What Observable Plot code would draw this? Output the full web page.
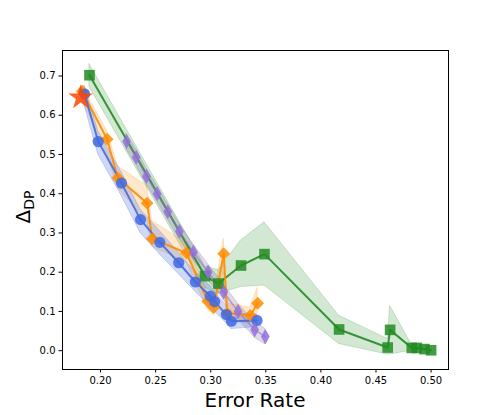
<!DOCTYPE html>
<html>
<head>
<meta charset="utf-8">
<script src="https://cdn.jsdelivr.net/npm/d3@7"></script>
<script src="https://cdn.jsdelivr.net/npm/@observablehq/plot@0.6"></script>
<style>
  html, body { margin: 0; padding: 0; background: white; }
  #chart svg { display: block; }
</style>
</head>
<body>
<div id="chart"></div>
<script>
// ---- data ----
const xTicks = [0.20, 0.25, 0.30, 0.35, 0.40, 0.45, 0.50];
const yTicks = [0.0, 0.1, 0.2, 0.3, 0.4, 0.5, 0.6, 0.7];

const starX = [0.182];
const starY = [0.645];

const greenX  = [0.190, 0.2948, 0.3070, 0.3275, 0.3488, 0.4165, 0.4606, 0.4628, 0.4825, 0.4870, 0.4940, 0.5000];
const greenY  = [0.702, 0.190, 0.171, 0.217, 0.246, 0.054, 0.008, 0.053, 0.007, 0.007, 0.004, 0.001];
const greenLo = [0.672, 0.160, 0.145, 0.162, 0.166, 0.017, -0.010, -0.010, 0.000, 0.001, -0.001, -0.003];
const greenHi = [0.730, 0.215, 0.205, 0.281, 0.327, 0.089, 0.030, 0.114, 0.015, 0.013, 0.009, 0.005];

const blueX  = [0.1855, 0.1979, 0.2190, 0.2363, 0.2538, 0.2710, 0.2861, 0.2997, 0.3036, 0.3142, 0.3188, 0.3420];
const blueY  = [0.654, 0.533, 0.427, 0.334, 0.276, 0.224, 0.175, 0.139, 0.125, 0.092, 0.075, 0.077];
const blueLo = [0.625, 0.500, 0.395, 0.300, 0.245, 0.195, 0.150, 0.112, 0.100, 0.070, 0.055, 0.060];
const blueHi = [0.675, 0.560, 0.455, 0.360, 0.305, 0.250, 0.200, 0.165, 0.150, 0.115, 0.095, 0.092];

const orangeX  = [0.1834, 0.2060, 0.2157, 0.2423, 0.2469, 0.2780, 0.2973, 0.3027, 0.3118, 0.3150, 0.3360, 0.3426];
const orangeY  = [0.661, 0.539, 0.440, 0.376, 0.285, 0.249, 0.126, 0.110, 0.247, 0.095, 0.090, 0.121];
const orangeLo = [0.640, 0.500, 0.415, 0.330, 0.265, 0.225, 0.105, 0.090, 0.200, 0.075, 0.070, 0.095];
const orangeHi = [0.675, 0.560, 0.470, 0.420, 0.330, 0.275, 0.150, 0.135, 0.285, 0.120, 0.110, 0.160];

const purpleX  = [0.2236, 0.2324, 0.2417, 0.2514, 0.2610, 0.2716, 0.2843, 0.2976, 0.3118, 0.3248, 0.3399, 0.3496];
const purpleY  = [0.533, 0.493, 0.444, 0.400, 0.354, 0.304, 0.251, 0.200, 0.149, 0.100, 0.053, 0.036];
const purpleLo = [0.513, 0.473, 0.424, 0.380, 0.334, 0.284, 0.231, 0.180, 0.129, 0.080, 0.033, 0.016];
const purpleHi = [0.553, 0.513, 0.464, 0.420, 0.374, 0.324, 0.271, 0.220, 0.169, 0.120, 0.073, 0.056];

// ---- colours ----
const C = {
  green: "#228B22",
  blue: "#4169E1",
  orange: "#FF8C00",
  purple: "#9370DB",
  star: "#FF4500"
};

function rows(xs, ys, lo, hi) {
  return xs.map((x, i) => ({x, y: ys[i], lo: lo ? lo[i] : null, hi: hi ? hi[i] : null}));
}
const green = rows(greenX, greenY, greenLo, greenHi);
const blue = rows(blueX, blueY, blueLo, blueHi);
const orange = rows(orangeX, orangeY, orangeLo, orangeHi);
const purple = rows(purpleX, purpleY, purpleLo, purpleHi);
const star = rows(starX, starY);

function band(data, color, op = 0.2) {
  return Plot.areaY(data, {x: "x", y1: "lo", y2: "hi", fill: color, fillOpacity: op,
    stroke: color, strokeOpacity: op, strokeWidth: 1});
}
function line(data, color, w = 2, op = 0.9) {
  return Plot.line(data, {x: "x", y: "y", stroke: color, strokeWidth: w, strokeOpacity: op});
}

const chart = Plot.plot({
  width: 498,
  height: 415,
  marginLeft: 62,
  marginRight: 50,
  marginTop: 50,
  marginBottom: 46,
  style: {fontFamily: "DejaVu Sans", fontSize: "10px", color: "black", background: "white"},
  x: {domain: [0.1655, 0.5158]},
  y: {domain: [-0.048, 0.765]},
  marks: [
    band(green, C.green, 0.2),
    band(purple, "#7a6a9a", 0.25),
    band(orange, C.orange, 0.2),
    band(blue, C.blue, 0.25),
    line(green, C.green, 2),
    line(purple, C.purple, 1.5, 0.6),
    line(orange, C.orange, 2),
    line(blue, C.blue, 2),
    Plot.dot(green, {x: "x", y: "y", symbol: "square", r: 6.0, fill: C.green, fillOpacity: 0.85, stroke: "none"}),
    Plot.dot(orange, {x: "x", y: "y", symbol: "diamond2", r: 5.8, fill: C.orange, fillOpacity: 0.85, stroke: "none"}),
    Plot.dot(blue, {x: "x", y: "y", symbol: "circle", r: 5.6, fill: C.blue, fillOpacity: 0.85, stroke: "none"}),
    Plot.dot(star, {x: "x", y: "y", symbol: "star", r: 7.8, fill: C.star, fillOpacity: 0.85, stroke: "none"}),
    Plot.dot(purple, {x: "x", y: "y", symbol: "diamond", r: 4.6, fill: C.purple, fillOpacity: 0.85, stroke: "none"}),
    Plot.frame({stroke: "black", strokeWidth: 1}),
    Plot.axisX({ticks: xTicks, tickFormat: d3.format(".2f"), tickSize: 3.5, tickPadding: 3.5, label: null, fontSize: 10}),
    Plot.axisY({ticks: yTicks, tickFormat: d3.format(".1f"), tickSize: 3.5, tickPadding: 3.5, label: null, fontSize: 10})
  ]
});

document.getElementById("chart").appendChild(chart);

// axis titles
const svg = d3.select(chart);
svg.append("text")
  .attr("x", 255).attr("y", 407)
  .attr("text-anchor", "middle")
  .attr("font-family", "DejaVu Sans")
  .attr("font-size", 20)
  .attr("fill", "black")
  .text("Error Rate");

const yl = svg.append("text")
  .attr("transform", "translate(30,207) rotate(-90)")
  .attr("text-anchor", "middle")
  .attr("font-family", "DejaVu Sans")
  .attr("font-size", 20)
  .attr("fill", "black");
yl.append("tspan").text("Δ");
yl.append("tspan").attr("font-size", 14).attr("dy", 4).text("DP");
</script>
</body>
</html>
